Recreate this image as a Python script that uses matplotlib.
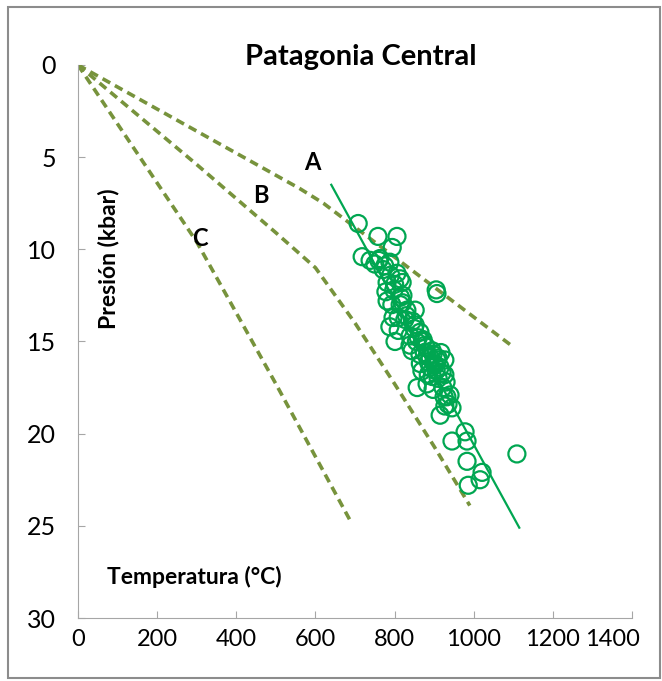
import numpy as np
import matplotlib.pyplot as plt
from matplotlib.patches import Rectangle
from matplotlib.transforms import ScaledTranslation

plt.rcParams['font.family'] = ['Lato', 'DejaVu Sans']

# muestras P-T (Temperatura en C, Presion en kbar)
temp = [708, 758, 806, 718, 794, 738, 763, 788, 771, 806, 819, 781, 798, 814,
        905, 907, 781, 814, 831, 796, 788, 801, 839, 864, 872, 844, 882, 907,
        890, 915, 857, 882, 897, 922, 932, 945, 915, 945, 978, 983, 983, 1021,
        1016, 986, 1109, 826, 852, 877, 895, 864, 902, 927, 885, 910, 927, 869,
        839, 809, 821, 778, 793, 809, 852, 897, 917, 940, 927,
        870, 880, 890, 900, 905, 895, 885, 875, 910, 920, 860, 850, 845, 830,
        820, 815, 800, 790, 775, 760, 750, 855, 865, 930, 935, 925]
pres = [8.6, 9.3, 9.3, 10.4, 9.9, 10.6, 10.5, 10.7, 11.1, 11.3, 11.8, 11.8, 12.2, 11.6,
        12.2, 12.4, 12.8, 13.0, 13.3, 13.7, 14.2, 15.0, 14.7, 14.5, 14.9, 15.5, 15.8, 16.0,
        16.4, 16.4, 17.5, 17.3, 17.6, 17.5, 18.0, 18.6, 19.0, 20.4, 19.9, 20.4, 21.5, 22.1,
        22.5, 22.8, 21.1, 13.8, 14.1, 15.2, 15.5, 15.7, 16.3, 16.0, 16.8, 17.0, 16.8, 16.6,
        15.2, 14.4, 12.5, 12.3, 13.0, 13.7, 13.3, 15.7, 15.6, 17.9, 18.5,
        15.0, 15.3, 15.9, 16.2, 16.6, 16.9, 16.1, 15.6, 15.9, 16.7, 14.8, 14.3, 13.9, 13.6,
        12.9, 12.6, 11.9, 11.4, 10.9, 10.6, 10.8, 15.0, 16.2, 17.2, 18.4, 18.0]

# linea de ajuste
fit_t = [640, 1115]
fit_p = [6.5, 25.1]

# geotermas
A_t = [0, 560, 620, 1100]
A_p = [0, 6.7, 7.5, 15.3]
B_t = [0, 300, 500, 600, 700, 800, 900, 990]
B_p = [0, 5.4, 9.1, 11.0, 14.0, 17.3, 20.7, 23.9]
C_t = [0, 300, 500, 690]
C_p = [0, 9.6, 17.3, 24.8]

olive = '#77933C'
green = '#00A651'
gray = '#A6A6A6'

fig = plt.figure(figsize=(6.62, 6.81), dpi=100)
ax = fig.add_axes([0.1178, 0.0925, 0.837, 0.8121])

for t, p in [(A_t, A_p), (B_t, B_p), (C_t, C_p)]:
    ax.plot(t, p, color=olive, lw=2.6, ls=(0, (2.4, 1.5)))

ax.plot(fit_t, fit_p, color=green, lw=1.6)
ax.scatter(temp, pres, s=150, facecolors='none', edgecolors=green, linewidths=1.6, zorder=3)

ax.text(592, 5.3, 'A', fontsize=17, fontweight='bold', ha='center', va='center')
ax.text(463, 7.1, 'B', fontsize=17, fontweight='bold', ha='center', va='center')
ax.text(308, 9.4, 'C', fontsize=17, fontweight='bold', ha='center', va='center')

ax.set_xlim(0, 1400)
ax.set_ylim(30, 0)
ax.set_xticks(range(0, 1401, 200))
ax.set_yticks(range(0, 31, 5))
ax.tick_params(labelsize=18, colors=gray, labelcolor='black', direction='in', length=5)
ax.tick_params(axis='y', pad=16)
ax.tick_params(axis='x', pad=8, labelsize=17)
# Excel mete la ultima etiqueta dentro del grafico
last = ax.xaxis.get_major_ticks()[-1].label1
last.set_transform(last.get_transform() + ScaledTranslation(-0.2, 0, fig.dpi_scale_trans))
for s in ['top', 'right']:
    ax.spines[s].set_visible(False)
for s in ['left', 'bottom']:
    ax.spines[s].set_color(gray)

ax.set_title('Patagonia Central', fontsize=21, fontweight='bold', x=0.51, y=1.0, pad=0)
ax.text(73, 27.8, 'Temperatura (°C)', fontsize=16.5, fontweight='bold', va='center')
ax.text(76, 10.5, 'Presión (kbar)', fontsize=16.5, fontweight='bold', rotation=90,
        ha='center', va='center')

fig.patches.append(Rectangle((0.012, 0.004), 0.985, 0.985, transform=fig.transFigure,
                             fill=False, edgecolor='#8c8c8c', lw=1.5))

plt.savefig('out.png')
